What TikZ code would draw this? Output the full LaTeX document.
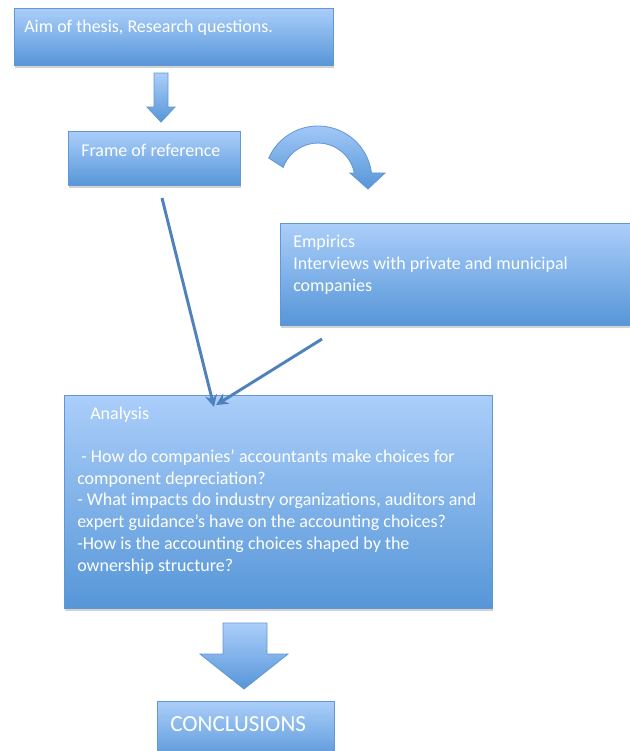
\documentclass[tikz,border=0pt]{standalone}
\usepackage{fontspec}
\setmainfont{Carlito}
\usetikzlibrary{shadows,arrows.meta}
\definecolor{ftop}{RGB}{171,206,250}
\definecolor{fbot}{RGB}{86,150,216}
\definecolor{bord}{RGB}{98,150,214}
\definecolor{lineblue}{RGB}{79,129,189}
\tikzset{
  boxstyle/.style={rectangle, draw=bord, line width=0.6pt, top color=ftop, bottom color=fbot,
    anchor=north west, inner sep=0pt,
    drop shadow={opacity=0.35, shadow xshift=0.6pt, shadow yshift=-1.8pt}},
  blockarrow/.style={draw=bord, line width=0.6pt, top color=ftop, bottom color=fbot},
  txt/.style={text=white, font=\fontsize{13.5}{16.3}\selectfont, anchor=base west, inner sep=0pt, align=left},
  linkarrow/.style={draw=lineblue, line width=2.2pt, -{Stealth[length=9pt,width=9pt]}}
}
\begin{document}
\begin{tikzpicture}[x=0.75pt,y=-0.75pt]
\useasboundingbox (0,0) rectangle (630,751);
% boxes
\node[boxstyle, minimum width=319*0.75pt, minimum height=57*0.75pt] (aim) at (14,8) {};
\node[boxstyle, minimum width=172*0.75pt, minimum height=54*0.75pt] (frame) at (68,131) {};
\node[boxstyle, minimum width=356*0.75pt, minimum height=102*0.75pt] (emp) at (280,223) {};
\node[boxstyle, minimum width=428*0.75pt, minimum height=213*0.75pt] (ana) at (64,395) {};
\node[boxstyle, minimum width=177*0.75pt, minimum height=60*0.75pt] (conc) at (157,701) {};
% texts (base = baseline of the last line)
\node[txt] (aimtxt) at (24,32) {Aim of thesis, Research questions.};
\node[txt] (frametxt) at (81,156) {Frame of reference};
\node[txt] (emptxt) at (293,291) {Empirics\\Interviews with private and municipal\\companies};
\node[txt] (anatxt) at (90,419) {Analysis};
\node[txt] (anaq) at (77,571) {\ - How do companies’ accountants make choices for\\component depreciation?\\- What impacts do industry organizations, auditors and\\expert guidance’s have on the accounting choices?\\-How is the accounting choices shaped by the\\ownership structure?};
\node[txt, font=\fontsize{17.3}{20}\selectfont] (conctxt) at (170,731) {CONCLUSIONS};
% block arrows
\path[blockarrow] (154,73) -- (168,73) -- (168,107) -- (175,107) -- (161,122) -- (147,107) -- (154,107) -- cycle;
\path[blockarrow] (223,623) -- (267,623) -- (267,654) -- (288,654) -- (244,689) -- (200,654) -- (223,654) -- cycle;
% curved arrow
\path[blockarrow] (318,180) ++(-156:54) arc[start angle=-156, end angle=-7.5, radius=54]
  -- (385,173) -- (368,189) -- (350,173) -- (354.3,173)
  arc[start angle=-11, end angle=-160, radius=37] -- cycle;
% connectors
\coordinate (f1) at (162,198);
\coordinate (e1) at (322,339);
\coordinate (t1) at (214,407);
\coordinate (t2) at (216,405);
\draw[linkarrow] (f1) -- (t1);
\draw[linkarrow] (e1) -- (t2);
\end{tikzpicture}
\end{document}
